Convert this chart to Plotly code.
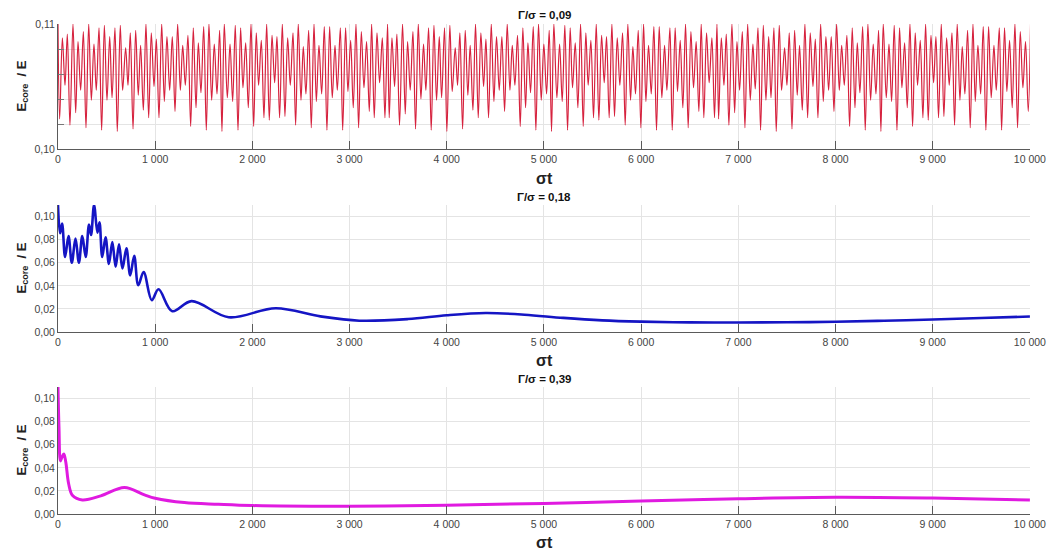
import plotly.graph_objects as go

# ---------------- Γ/σ = 0,09 : successive extrema of E_core/E ----------------
t_top_a = [0, 17, 45, 72, 96, 123, 154, 182, 206, 233, 261, 288, 316, 343, 370, 394, 422, 449, 477, 504,
           532, 556, 586, 610, 641, 665, 696, 720, 744, 772, 799, 826, 850, 878, 905, 933, 960, 988, 1012, 1039,
           1067, 1094, 1121, 1149, 1176, 1204, 1231, 1259, 1283, 1310, 1337, 1365, 1392, 1420, 1444, 1471, 1499,
           1526, 1553, 1581, 1608, 1636, 1663, 1687, 1711,
           1742, 1770, 1797, 1824, 1852, 1879, 1903, 1931, 1958, 1986, 2013, 2040, 2064, 2092, 2119,
           2147, 2174, 2202, 2229, 2253, 2280, 2308, 2335, 2363, 2390, 2418, 2445, 2472, 2500, 2524,
           2551, 2579, 2606, 2634, 2658, 2685, 2713, 2740, 2767, 2795, 2822, 2850, 2874, 2905, 2929,
           2959, 2983, 3011, 3038, 3066, 3093, 3121, 3148, 3175, 3203, 3227, 3254, 3282, 3309, 3337, 3364]
e_top_a = [0.1100, 0.1024, 0.1089, 0.1051, 0.1092, 0.1019, 0.1100, 0.1029, 0.1086, 0.1047,
           0.1094, 0.1017, 0.1100, 0.1039, 0.1084, 0.1047, 0.1097, 0.1015, 0.1099, 0.1039,
           0.1090, 0.1041, 0.1097, 0.1014, 0.1099, 0.1047, 0.1081, 0.1051, 0.1093, 0.1016,
           0.1095, 0.1043, 0.1083, 0.1031, 0.1100, 0.1025, 0.1093, 0.1050, 0.1088, 0.1025,
           0.1100, 0.1038, 0.1090, 0.1047, 0.1090, 0.1030, 0.1100, 0.1047, 0.1083, 0.1051,
           0.1091, 0.1018, 0.1097, 0.1033, 0.1085, 0.1045, 0.1098, 0.1015, 0.1100, 0.1039,
           0.1084, 0.1044, 0.1095, 0.1014, 0.1100,
           0.1041, 0.1084, 0.1038, 0.1099, 0.1015,
           0.1097, 0.1049, 0.1085, 0.1033, 0.1100, 0.1018, 0.1093, 0.1051, 0.1087, 0.1025,
           0.1100, 0.1023, 0.1091, 0.1053, 0.1090, 0.1025, 0.1100, 0.1026, 0.1089, 0.1051,
           0.1093, 0.1019, 0.1100, 0.1039, 0.1082, 0.1044, 0.1095, 0.1017, 0.1100, 0.1038,
           0.1083, 0.1044, 0.1098, 0.1015, 0.1098, 0.1041, 0.1083, 0.1047, 0.1097, 0.1015,
           0.1097, 0.1046, 0.1087, 0.1033, 0.1100, 0.1017, 0.1094, 0.1049, 0.1086, 0.1030,
           0.1100, 0.1025, 0.1093, 0.1053, 0.1089, 0.1025]

t_top_b = [3391, 3408, 3436, 3463, 3487, 3514, 3545, 3573, 3597, 3624, 3652, 3679, 3707, 3734, 3761, 3785,
           3813, 3840, 3868, 3895, 3923, 3947, 3977, 4001, 4032, 4056, 4087, 4111, 4135, 4163, 4190, 4217,
           4241, 4269, 4296, 4324, 4351, 4379, 4403, 4430, 4458, 4485, 4512, 4540, 4567, 4595, 4622, 4650,
           4674, 4701, 4728, 4756, 4783, 4811, 4835, 4862, 4890, 4917, 4944, 4972, 4999, 5027, 5054, 5078, 5102,
           5133, 5161, 5188, 5215, 5243, 5270, 5294, 5322, 5349, 5377, 5404, 5431, 5455, 5483, 5510,
           5538, 5565, 5593, 5620, 5644, 5671, 5699, 5726, 5754, 5781, 5809, 5836, 5863, 5891, 5915,
           5942, 5970, 5997, 6025, 6049, 6076, 6104, 6131, 6158, 6186, 6213, 6241, 6265, 6296, 6320,
           6350, 6374, 6402, 6429, 6457, 6484, 6512, 6539, 6566, 6594, 6618, 6645, 6673, 6700, 6728, 6755]
e_top_b = [0.1100, 0.1025, 0.1089, 0.1050, 0.1092, 0.1019, 0.1100, 0.1028, 0.1086, 0.1047,
           0.1094, 0.1016, 0.1100, 0.1040, 0.1084, 0.1047, 0.1097, 0.1015, 0.1099, 0.1039,
           0.1090, 0.1041, 0.1097, 0.1014, 0.1099, 0.1046, 0.1081, 0.1051, 0.1093, 0.1016,
           0.1095, 0.1043, 0.1083, 0.1031, 0.1100, 0.1025, 0.1093, 0.1050, 0.1088, 0.1025,
           0.1100, 0.1038, 0.1090, 0.1047, 0.1090, 0.1030, 0.1100, 0.1047, 0.1083, 0.1051,
           0.1091, 0.1018, 0.1097, 0.1033, 0.1085, 0.1045, 0.1098, 0.1015, 0.1100, 0.1039,
           0.1084, 0.1044, 0.1095, 0.1014, 0.1100,
           0.1041, 0.1084, 0.1038, 0.1099, 0.1015,
           0.1097, 0.1049, 0.1085, 0.1033, 0.1100, 0.1018, 0.1093, 0.1051, 0.1087, 0.1025,
           0.1100, 0.1023, 0.1091, 0.1053, 0.1090, 0.1025, 0.1100, 0.1026, 0.1089, 0.1051,
           0.1093, 0.1019, 0.1100, 0.1039, 0.1082, 0.1044, 0.1095, 0.1017, 0.1100, 0.1038,
           0.1083, 0.1044, 0.1098, 0.1015, 0.1098, 0.1041, 0.1083, 0.1047, 0.1097, 0.1015,
           0.1097, 0.1046, 0.1087, 0.1033, 0.1100, 0.1017, 0.1094, 0.1049, 0.1086, 0.1030,
           0.1100, 0.1025, 0.1093, 0.1053, 0.1089, 0.1025]

t_top_c = [6780, 6797, 6825, 6852, 6876, 6903, 6934, 6962, 6986, 7013, 7041, 7068, 7096, 7123, 7150, 7174,
           7202, 7229, 7257, 7284, 7312, 7336, 7366, 7390, 7421, 7445, 7476, 7500, 7524, 7552, 7579, 7606,
           7630, 7658, 7685, 7713, 7740, 7768, 7792, 7819, 7847, 7874, 7901, 7929, 7956, 7984, 8011, 8039,
           8063, 8090, 8117, 8145, 8172, 8200, 8224, 8251, 8279, 8306, 8333, 8361, 8388, 8416, 8443, 8467, 8491,
           8522, 8550, 8577, 8604, 8632, 8659, 8683, 8711, 8738, 8766, 8793, 8820, 8844, 8872, 8899,
           8927, 8954, 8982, 9009, 9033, 9060, 9088, 9115, 9143, 9170, 9198, 9225, 9252, 9280, 9304,
           9331, 9359, 9386, 9414, 9438, 9465, 9493, 9520, 9547, 9575, 9602, 9630, 9654, 9685, 9709,
           9739, 9763, 9791, 9818, 9846, 9873, 9901, 9928, 9955, 9983, 10007]
e_top_c = [0.1100, 0.1024, 0.1089, 0.1051, 0.1092, 0.1019, 0.1100, 0.1029, 0.1086, 0.1047,
           0.1094, 0.1017, 0.1100, 0.1039, 0.1084, 0.1048, 0.1097, 0.1015, 0.1099, 0.1039,
           0.1090, 0.1041, 0.1097, 0.1014, 0.1099, 0.1047, 0.1081, 0.1051, 0.1093, 0.1016,
           0.1095, 0.1043, 0.1083, 0.1031, 0.1100, 0.1025, 0.1093, 0.1050, 0.1088, 0.1025,
           0.1100, 0.1038, 0.1090, 0.1047, 0.1090, 0.1030, 0.1100, 0.1047, 0.1083, 0.1051,
           0.1091, 0.1018, 0.1097, 0.1033, 0.1085, 0.1045, 0.1098, 0.1015, 0.1100, 0.1039,
           0.1084, 0.1044, 0.1095, 0.1014, 0.1100,
           0.1041, 0.1084, 0.1038, 0.1099, 0.1015,
           0.1097, 0.1049, 0.1085, 0.1033, 0.1100, 0.1018, 0.1093, 0.1051, 0.1087, 0.1025,
           0.1100, 0.1023, 0.1091, 0.1053, 0.1090, 0.1025, 0.1100, 0.1026, 0.1089, 0.1051,
           0.1093, 0.1019, 0.1100, 0.1039, 0.1082, 0.1044, 0.1095, 0.1017, 0.1100, 0.1038,
           0.1083, 0.1044, 0.1098, 0.1015, 0.1098, 0.1041, 0.1083, 0.1047, 0.1097, 0.1015,
           0.1097, 0.1046, 0.1087, 0.1033, 0.1100, 0.1017, 0.1094, 0.1049, 0.1086, 0.1030,
           0.1100]

# ---------------- Γ/σ = 0,18 ----------------
t_mid = [0, 21, 42, 73, 108, 142, 180, 215, 250, 285, 319, 340, 371, 406, 427, 455, 489, 524, 559, 593,
         628, 663, 704, 743, 784, 826, 881, 965, 1034, 1176, 1374, 1756, 2241, 2700, 3100, 3600, 4000,
         4400, 4800, 5200, 5600, 6000, 6500, 7000, 7500, 8000, 8500, 9000, 9500, 10000]
e_mid = [0.110, 0.0855, 0.094, 0.065, 0.083, 0.060, 0.081, 0.060, 0.083, 0.065, 0.093, 0.084, 0.110,
         0.086, 0.095, 0.065, 0.082, 0.059, 0.078, 0.0565, 0.076, 0.055, 0.0725, 0.049, 0.066, 0.0405,
         0.052, 0.0275, 0.037, 0.018, 0.0267, 0.0128, 0.0206, 0.0135, 0.0098, 0.0112, 0.0145, 0.0164,
         0.0150, 0.0122, 0.0101, 0.0090, 0.0083, 0.0082, 0.0084, 0.0089, 0.0098, 0.0108, 0.0121, 0.0134]

# ---------------- Γ/σ = 0,39 ----------------
t_bot = [0, 10, 25, 40, 60, 80, 110, 150, 250, 440, 683, 890, 1000, 1300, 1650, 2000, 3000, 4000,
         5000, 6000, 7000, 8000, 9000, 10000]
e_bot = [0.110, 0.075, 0.046, 0.049, 0.052, 0.045, 0.026, 0.016, 0.0122, 0.0157, 0.023, 0.0166,
         0.0137, 0.0099, 0.0084, 0.0073, 0.0067, 0.0076, 0.0092, 0.0112, 0.0132, 0.0145, 0.0138, 0.0122]

panel_titles = ["Γ/σ = 0,09", "Γ/σ = 0,18", "Γ/σ = 0,39"]
x_title = "σt"
y_title = "<b>E<sub>core</sub>  / E</b>"

t_top = t_top_a + t_top_b + t_top_c
e_top = e_top_a + e_top_b + e_top_c

FONT = "Liberation Sans, Arial, sans-serif"
GRID = "#e4e4e4"
AXIS = "#5a5a5a"
TICKFONT = dict(size=10.5, color="#444444")

fig = go.Figure()
fig.add_trace(go.Scatter(x=t_top, y=e_top, mode="lines", line=dict(color="#d6223e", width=1.2, shape="spline"),
                         xaxis="x", yaxis="y", showlegend=False))
fig.add_trace(go.Scatter(x=t_mid, y=e_mid, mode="lines", line=dict(color="#1515c4", width=2.6, shape="spline"),
                         xaxis="x2", yaxis="y2", showlegend=False))
fig.add_trace(go.Scatter(x=t_bot, y=e_bot, mode="lines", line=dict(color="#e01ae0", width=3, shape="spline"),
                         xaxis="x3", yaxis="y3", showlegend=False))

H_TOT = 490.0


def dom(top_px, bot_px):
    return [(514 - bot_px) / H_TOT, (514 - top_px) / H_TOT]


def xaxis_cfg(anchor):
    return dict(anchor=anchor, domain=[0, 1], range=[0, 10001], tickvals=list(range(0, 10001, 1000)),
                tickformat=",d", separatethousands=True, ticklabeloverflow="allow", automargin=False,
                showgrid=True, gridcolor=GRID, gridwidth=1,
                showline=True, linecolor=AXIS, linewidth=1, ticks="inside", ticklen=8,
                tickcolor=AXIS, tickfont=TICKFONT, zeroline=False)


common_y = dict(showgrid=True, gridcolor=GRID, showline=True, linecolor=AXIS, linewidth=1, automargin=False,
                tickfont=TICKFONT, zeroline=False, tickformat=".2f")

fig.update_layout(
    width=1048, height=550,
    margin=dict(l=58, r=18, t=24, b=36),
    paper_bgcolor="white", plot_bgcolor="white",
    separators=", ",
    font=dict(family=FONT, color="#222222"),
    xaxis=xaxis_cfg("y"),
    xaxis2=xaxis_cfg("y2"),
    xaxis3=xaxis_cfg("y3"),
    yaxis=dict(anchor="x", domain=dom(24, 149), range=[0.10, 0.11], tickvals=[0.10, 0.11],
               ticks="inside", ticklen=7, tickcolor=AXIS,
               minor=dict(dtick=0.002, tick0=0.10, showgrid=True, gridcolor=GRID,
                          ticks="inside", ticklen=6, tickcolor="#777777"),
               **common_y),
    yaxis2=dict(anchor="x2", domain=dom(205, 332), range=[0, 0.11], dtick=0.02, tick0=0,
                ticks="", **common_y),
    yaxis3=dict(anchor="x3", domain=dom(387, 514), range=[0, 0.11], dtick=0.02, tick0=0,
                ticks="", **common_y),
)

ann = []
for title, ypx in zip(panel_titles, [15, 197, 379]):
    ann.append(dict(text="<b>" + title + "</b>", x=0.5, xref="paper", y=(514 - ypx) / H_TOT, yref="paper",
                    showarrow=False, font=dict(size=11.5, color="#111111"), xanchor="center", yanchor="middle"))
for ypx in [178, 360, 542]:
    ann.append(dict(text="<b>" + x_title + "</b>", x=0.5, xref="paper", y=(514 - ypx) / H_TOT, yref="paper",
                    showarrow=False, font=dict(size=16, color="#222222"), xanchor="center", yanchor="middle"))
for ypx in [86.5, 268.5, 450.5]:
    ann.append(dict(text=y_title, x=(22 - 58) / 972.0, xref="paper", y=(514 - ypx) / H_TOT, yref="paper",
                    showarrow=False, textangle=-90, font=dict(size=13, color="#222222"),
                    xanchor="center", yanchor="middle"))
fig.update_layout(annotations=ann)

fig.write_html("out.html")
